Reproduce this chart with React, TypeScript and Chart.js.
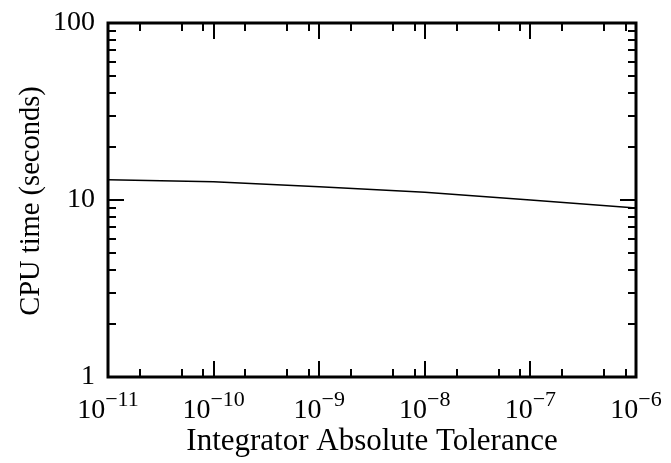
import React, { useEffect, useRef } from "react";
import { Chart, registerables } from "chart.js";

Chart.register(...registerables);

const tolerances = [1e-11, 1e-10, 1e-9, 1e-8, 1e-7, 1e-6];
const cpuTimes = [13.0, 12.7, 11.9, 11.05, 10.0, 9.0];
const xTickExponents = [-11, -10, -9, -8, -7, -6];
const xMinorMultipliers = [2, 5, 8];
const yTickValues = [1, 10, 100];
const yMinorMultipliers = [2, 3, 4, 5, 6, 7, 8, 9];
const yTickLabels = ["1", "10", "100"];
const xTitle = "Integrator Absolute Tolerance";
const yTitle = "CPU time (seconds)";

const FONT = "'Liberation Serif', 'DejaVu Serif', serif";

const framePlugin = {
  id: "frame",
  afterDraw(chart: any) {
    const ctx = chart.ctx as CanvasRenderingContext2D;
    const { left, right, top, bottom } = chart.chartArea;
    const xs = chart.scales.x;
    const ys = chart.scales.y;
    ctx.save();
    ctx.strokeStyle = "#000";
    ctx.lineWidth = 2;
    ctx.lineCap = "butt";
    const xTick = (v: number, len: number) => {
      const px = Math.round(xs.getPixelForValue(v));
      ctx.beginPath();
      ctx.moveTo(px, bottom);
      ctx.lineTo(px, bottom - len);
      ctx.moveTo(px, top);
      ctx.lineTo(px, top + len);
      ctx.stroke();
    };
    const yTick = (v: number, len: number) => {
      const py = Math.round(ys.getPixelForValue(v));
      ctx.beginPath();
      ctx.moveTo(left, py);
      ctx.lineTo(left + len, py);
      ctx.moveTo(right, py);
      ctx.lineTo(right - len, py);
      ctx.stroke();
    };
    xTickExponents.forEach((e, i) => {
      const d = Math.pow(10, e);
      xTick(d, 16);
      if (i < xTickExponents.length - 1) xMinorMultipliers.forEach((m) => xTick(m * d, 8));
    });
    yTickValues.forEach((d, i) => {
      yTick(d, 16);
      if (i < yTickValues.length - 1) yMinorMultipliers.forEach((m) => yTick(m * d, 8));
    });
    // frame
    ctx.lineWidth = 3;
    ctx.strokeRect(left, top, right - left, bottom - top);

    // y tick labels
    ctx.fillStyle = "#000";
    ctx.font = `28px ${FONT}`;
    ctx.textAlign = "right";
    ctx.textBaseline = "middle";
    yTickValues.forEach((v, i) => {
      ctx.fillText(yTickLabels[i], 95, ys.getPixelForValue(v));
    });

    // x tick labels with superscripts
    ctx.textBaseline = "alphabetic";
    ctx.textAlign = "left";
    xTickExponents.forEach((e) => {
      const px = xs.getPixelForValue(Math.pow(10, e));
      const baseTxt = "10";
      const supTxt = "\u2212" + String(Math.abs(e));
      ctx.font = `28px ${FONT}`;
      const wb = ctx.measureText(baseTxt).width;
      ctx.font = `22px ${FONT}`;
      const ws = ctx.measureText(supTxt).width;
      const x0 = px - (wb + ws) / 2;
      ctx.font = `28px ${FONT}`;
      ctx.fillText(baseTxt, x0, 418);
      ctx.font = `22px ${FONT}`;
      ctx.fillText(supTxt, x0 + wb, 406);
    });

    // axis titles
    ctx.font = `31px ${FONT}`;
    ctx.textAlign = "center";
    ctx.textBaseline = "alphabetic";
    ctx.fillText(xTitle, (left + right) / 2, 450);

    ctx.font = `28.5px ${FONT}`;
    ctx.save();
    ctx.translate(39, (top + bottom) / 2 + 1);
    ctx.rotate(-Math.PI / 2);
    ctx.fillText(yTitle, 0, 0);
    ctx.restore();

    ctx.restore();
  },
};

export default function App() {
  const ref = useRef<HTMLCanvasElement | null>(null);
  useEffect(() => {
    if (!ref.current) return;
    const chart = new Chart(ref.current, {
      type: "line",
      data: {
        datasets: [
          {
            data: tolerances.map((t, i) => ({ x: t, y: cpuTimes[i] })),
            borderColor: "#000",
            borderWidth: 1.5,
            pointRadius: 0,
            fill: false,
            tension: 0,
          },
        ],
      },
      options: {
        animation: false,
        responsive: false,
        maintainAspectRatio: false,
        layout: { padding: { top: 23, right: 35, left: 0, bottom: 0 } },
        plugins: { legend: { display: false }, tooltip: { enabled: false } },
        scales: {
          x: {
            type: "logarithmic",
            min: 1e-11,
            max: 1e-6,
            grid: { display: false },
            border: { display: false },
            ticks: { display: false },
            afterFit: (s: any) => {
              s.height = 86;
            },
          },
          y: {
            type: "logarithmic",
            min: 1,
            max: 100,
            grid: { display: false },
            border: { display: false },
            ticks: { display: false },
            afterFit: (s: any) => {
              s.width = 108;
            },
          },
        },
      },
      plugins: [framePlugin],
    });
    return () => chart.destroy();
  }, []);
  return (
    <div style={{ position: "fixed", left: 0, top: 0, width: 671, height: 463, background: "#fff" }}>
      <canvas ref={ref} width={671} height={463} style={{ display: "block" }} />
    </div>
  );
}
